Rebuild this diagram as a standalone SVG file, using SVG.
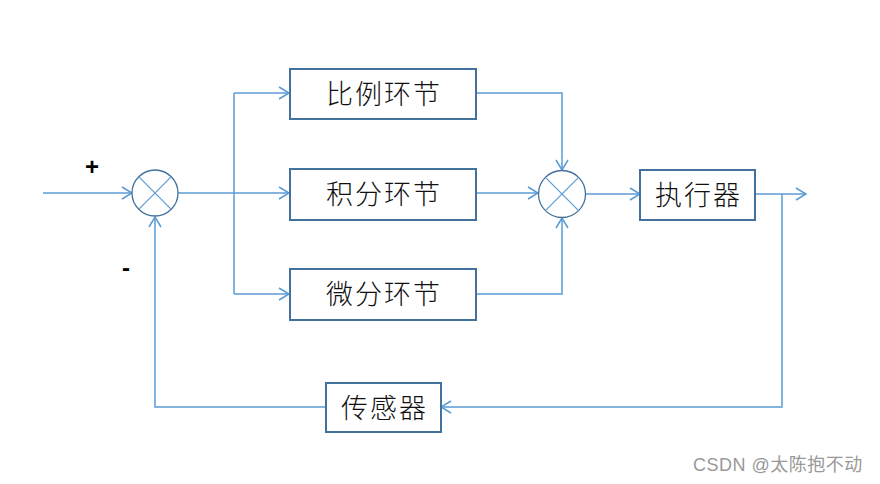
<svg xmlns="http://www.w3.org/2000/svg" width="880" height="484" viewBox="0 0 880 484">
<style>
.box{fill:#fff;stroke:#41719C;stroke-width:2}
.ln{fill:none;stroke:#5B9BD5;stroke-width:1.5}
.sum{fill:#fff;stroke:#41719C;stroke-width:1.3}
.x{stroke:#5B9BD5;stroke-width:1.2}
.t{font-family:"Noto Sans CJK SC","Noto Sans CJK JP",sans-serif;font-size:27px;font-weight:300;letter-spacing:2px;fill:#111;text-anchor:middle}
.s{font-family:"Liberation Sans",Arial,sans-serif;font-size:24px;font-weight:bold;fill:#000;text-anchor:middle}
.w{font-family:"Liberation Sans","Noto Sans CJK SC",sans-serif;font-size:18px;letter-spacing:0.5px;fill:#999}
</style>
<defs>
<marker id="a" markerUnits="userSpaceOnUse" markerWidth="14" markerHeight="14" refX="11" refY="7" orient="auto">
<path d="M1,1 L11,7 L1,13" fill="none" stroke="#5B9BD5" stroke-width="1.5"/>
</marker>
</defs>
<rect width="880" height="484" fill="#fff"/>
<g id="connectors">
<line class="ln" x1="43" y1="193" x2="132" y2="193" marker-end="url(#a)"/>
<line class="ln" x1="178" y1="193" x2="234" y2="193"/>
<polyline class="ln" points="234,93 234,294"/>
<line class="ln" x1="234" y1="93" x2="289" y2="93" marker-end="url(#a)"/>
<line class="ln" x1="234" y1="193" x2="289" y2="193" marker-end="url(#a)"/>
<line class="ln" x1="234" y1="294" x2="289" y2="294" marker-end="url(#a)"/>
<polyline class="ln" points="476,93 562,93 562,170" marker-end="url(#a)"/>
<line class="ln" x1="476" y1="193" x2="538" y2="193" marker-end="url(#a)"/>
<polyline class="ln" points="476,294 562,294 562,218" marker-end="url(#a)"/>
<line class="ln" x1="585" y1="194" x2="640" y2="194" marker-end="url(#a)"/>
<line class="ln" x1="755" y1="194" x2="806" y2="194" marker-end="url(#a)"/>
<polyline class="ln" points="782,194 782,407 441,407" marker-end="url(#a)"/>
<polyline class="ln" points="326,407 155,407 155,217" marker-end="url(#a)"/>
</g>
<g id="sum1">
<circle class="sum" cx="155" cy="193" r="23"/>
<line class="x" x1="138.7" y1="176.7" x2="171.3" y2="209.3"/>
<line class="x" x1="171.3" y1="176.7" x2="138.7" y2="209.3"/>
</g>
<g id="sum2">
<circle class="sum" cx="562" cy="194" r="23.5"/>
<line class="x" x1="545.4" y1="177.4" x2="578.6" y2="210.6"/>
<line class="x" x1="578.6" y1="177.4" x2="545.4" y2="210.6"/>
</g>
<g id="p">
<rect class="box" x="290" y="69" width="186" height="50"/>
<text class="t" x="384" y="104">比例环节</text>
</g>
<g id="i">
<rect class="box" x="290" y="169" width="186" height="51"/>
<text class="t" x="384" y="204">积分环节</text>
</g>
<g id="d">
<rect class="box" x="290" y="269" width="186" height="51"/>
<text class="t" x="384" y="304">微分环节</text>
</g>
<g id="actuator">
<rect class="box" x="640" y="170" width="115" height="50"/>
<text class="t" x="698.5" y="205">执行器</text>
</g>
<g id="sensor">
<rect class="box" x="326" y="383" width="115" height="49"/>
<text class="t" x="384.5" y="418">传感器</text>
</g>
<text class="s" x="92" y="175">+</text>
<text class="s" x="126" y="276">-</text>
<text class="w" x="693" y="471">CSDN @太陈抱不动</text>
</svg>
